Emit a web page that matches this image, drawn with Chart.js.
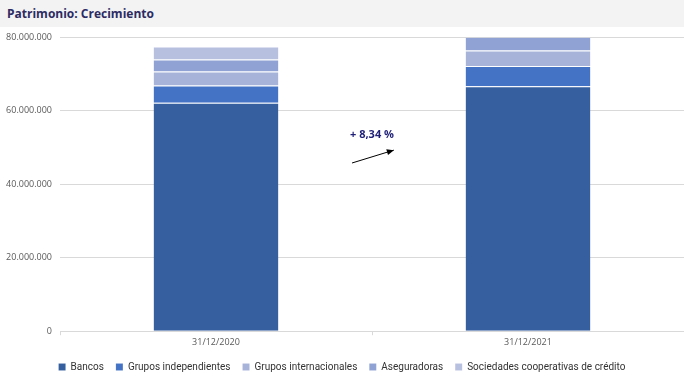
<!DOCTYPE html>
<html>
<head>
<meta charset="utf-8">
<script src="https://cdn.jsdelivr.net/npm/chart.js@4/dist/chart.umd.min.js"></script>
<style>
  html, body { margin: 0; padding: 0; background: #ffffff; }
  body { width: 684px; height: 389px; overflow: hidden; font-family: "Open Sans", "Liberation Sans", sans-serif; }
  #header { height: 27px; background: #f3f3f3; color: #2d2b63; font-weight: bold; font-size: 12px; line-height: 27px; padding-left: 7px; font-family: "Open Sans", "Liberation Sans", sans-serif; }
  #wrap { position: relative; width: 684px; height: 365px; margin-top: -3px; }
</style>
</head>
<body>
<div id="header">Patrimonio: Crecimiento</div>
<div id="wrap"><canvas id="c"></canvas></div>
<script>
const categories = ["31/12/2020", "31/12/2021"];
const seriesNames = ["Bancos", "Grupos independientes", "Grupos internacionales", "Aseguradoras", "Sociedades cooperativas de crédito"];
const bancos = [62200000, 66700000];
const gruposIndependientes = [4700000, 5500000];
const gruposInternacionales = [3800000, 4250000];
const aseguradoras = [3300000, 3700000];
const sociedadesCooperativas = [3500000, 3800000];
const yTicks = [0, 20000000, 40000000, 60000000, 80000000];
const growthLabel = "+ 8,34 %";

const colors = ["#365f9f", "#4472c4", "#a7b3d9", "#8fa2d3", "#b8c0e0"];
const seriesValues = [bancos, gruposIndependientes, gruposInternacionales, aseguradoras, sociedadesCooperativas];

function fmt(v) {
  return String(Math.round(v)).replace(/\B(?=(\d{3})+(?!\d))/g, ".");
}

const arrowPlugin = {
  id: "growthArrow",
  afterDatasetsDraw(chart) {
    const { ctx, scales: { x, y } } = chart;
    const tx = x.getPixelForValue(0.5);
    const ty = y.getPixelForValue(53500000);
    ctx.save();
    ctx.font = "bold 11px 'Open Sans', 'Liberation Sans', sans-serif";
    ctx.fillStyle = "#1f1f78";
    ctx.textAlign = "center";
    ctx.textBaseline = "middle";
    ctx.fillText(growthLabel, tx, ty);
    const x1 = x.getPixelForValue(0.436), y1 = y.getPixelForValue(45800000);
    const x2 = x.getPixelForValue(0.57), y2 = y.getPixelForValue(49300000);
    ctx.strokeStyle = "#000000";
    ctx.fillStyle = "#000000";
    ctx.lineWidth = 1;
    ctx.beginPath();
    ctx.moveTo(x1, y1);
    ctx.lineTo(x2, y2);
    ctx.stroke();
    const ang = Math.atan2(y2 - y1, x2 - x1);
    const L = 7, W = 3;
    ctx.beginPath();
    ctx.moveTo(x2, y2);
    ctx.lineTo(x2 - L * Math.cos(ang) + W * Math.sin(ang), y2 - L * Math.sin(ang) - W * Math.cos(ang));
    ctx.lineTo(x2 - L * Math.cos(ang) - W * Math.sin(ang), y2 - L * Math.sin(ang) + W * Math.cos(ang));
    ctx.closePath();
    ctx.fill();
    ctx.restore();
  }
};

new Chart(document.getElementById("c"), {
  type: "bar",
  data: {
    labels: categories,
    datasets: seriesNames.map((n, i) => ({
      label: n,
      data: seriesValues[i],
      backgroundColor: colors[i],
      borderColor: "rgba(255,255,255,0.3)",
      borderWidth: { top: 1, bottom: 0, left: 0, right: 0 },
      borderSkipped: false,
      categoryPercentage: 1.0,
      barPercentage: 0.4
    }))
  },
  options: {
    responsive: true,
    maintainAspectRatio: false,
    animation: false,
    layout: { padding: { top: 5, right: 0, left: 0, bottom: 7 } },
    scales: {
      x: {
        stacked: true,
        grid: { display: true, drawOnChartArea: false, offset: true, color: "#d9d9d9", tickLength: 4 },
        border: { display: true, color: "#d9d9d9" },
        ticks: { color: "#595959", font: { size: 9, family: "'Open Sans', 'Liberation Sans', sans-serif" }, padding: 2 }
      },
      y: {
        stacked: true,
        min: 0,
        max: 80000000,
        afterBuildTicks(axis) { axis.ticks = yTicks.map(v => ({ value: v })); },
        afterFit(axis) { axis.width = 60; },
        grid: { color: "#d9d9d9", drawTicks: false },
        border: { display: false },
        ticks: { color: "#595959", font: { size: 9, family: "'Open Sans', 'Liberation Sans', sans-serif" }, padding: 8, callback: v => fmt(v) }
      }
    },
    plugins: {
      legend: {
        position: "bottom",
        labels: {
          boxWidth: 7, boxHeight: 7, padding: 12, color: "#333333",
          font: { size: 10, family: "'Roboto', sans-serif" }
        }
      },
      tooltip: { enabled: false }
    }
  },
  plugins: [arrowPlugin]
});
</script>
</body>
</html>
